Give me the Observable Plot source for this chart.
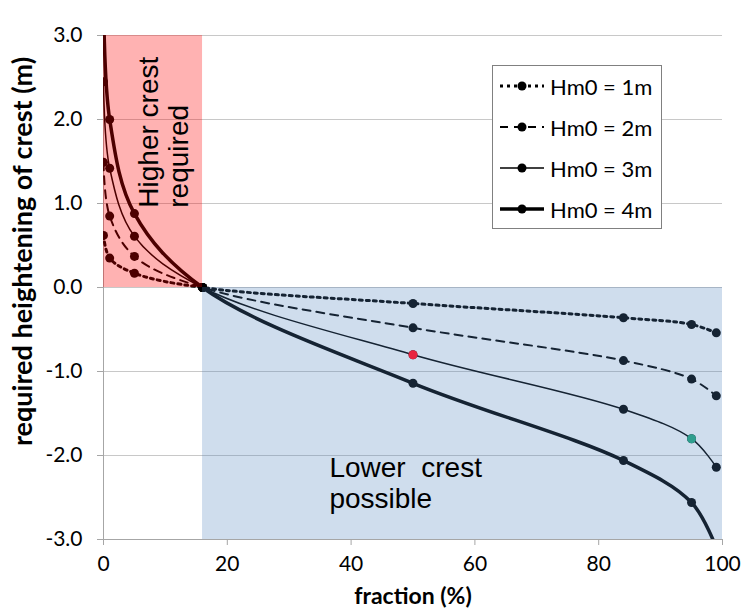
<!DOCTYPE html>
<html>
<head>
<meta charset="utf-8">
<script src="https://cdn.jsdelivr.net/npm/d3@7"></script>
<script src="https://cdn.jsdelivr.net/npm/@observablehq/plot@0.6"></script>
<style>
  body { margin: 0; background: #fff; }
  #chart { position: relative; width: 741px; height: 608px; }
  #legend {
    position: absolute; left: 492px; top: 65px; width: 170px; height: 164px;
    box-sizing: border-box; border: 1px solid #808080; background: #fff;
    font-family: Lato, "Liberation Sans", sans-serif; font-size: 22px; color: #000;
  }
  #legend .row { position: absolute; left: 0; height: 24px; display: flex; align-items: center; }
  #legend svg { margin-left: 6px; margin-right: 5px; }
</style>
</head>
<body>
<div id="chart"><div id="legend"></div></div>
<script>
// Fraction (%) at which each curve was evaluated
const fractions = [0, 1, 5, 16, 50, 84, 95, 99];
const seriesNames = ["Hm0 = 1m", "Hm0 = 2m", "Hm0 = 3m", "Hm0 = 4m"];
// Required heightening of the crest (m) for each wave height
const hm1 = [0.62, 0.35, 0.17, 0, -0.19, -0.36, -0.44, -0.54];
const hm2 = [1.49, 0.85, 0.37, 0, -0.48, -0.87, -1.09, -1.29];
const hm3 = [2.45, 1.42, 0.61, 0, -0.80, -1.45, -1.80, -2.14];
const hm4 = [3.50, 2.00, 0.88, 0, -1.14, -2.06, -2.56, -3.10];
const xTicks = [0, 20, 40, 60, 80, 100];
const yTicks = [-3, -2, -1, 0, 1, 2, 3];
// Shaded zones: crest must go up / crest may go down
const zones = [
  { zone: "higher", x1: 0, x2: 16, y1: 0, y2: 3 },
  { zone: "lower", x1: 16, x2: 100, y1: -3, y2: 0 }
];
// Marked points on the Hm0 = 3m curve
const markedFractions = [50, 95];
const markedKinds = ["red", "teal"];

const seriesValues = [hm1, hm2, hm3, hm4];
const rows = seriesNames.flatMap((name, j) =>
  fractions.map((f, i) => ({ series: name, fraction: f, value: seriesValues[j][i] })));
const marked = markedFractions.map((f, k) => ({
  fraction: f, value: hm3[fractions.indexOf(f)], kind: markedKinds[k]
}));

const lineStyles = {
  "Hm0 = 1m": { strokeWidth: 3, strokeDasharray: "3,4" },
  "Hm0 = 2m": { strokeWidth: 2, strokeDasharray: "8,6" },
  "Hm0 = 3m": { strokeWidth: 1.5 },
  "Hm0 = 4m": { strokeWidth: 3.5 }
};
const zoneColor = { higher: "#ff0000", lower: "#4f81bd" };
const zoneOpacity = { higher: 0.3, lower: 0.27 };
const markedColor = { red: "#e8233f", teal: "#2f9e8e" };

const seriesMarks = seriesNames.flatMap(name => {
  const data = rows.filter(d => d.series === name);
  return [
    Plot.line(data, { x: "fraction", y: "value", stroke: "black", curve: "catmull-rom", clip: true, ...lineStyles[name] }),
    Plot.dot(data, { x: "fraction", y: "value", r: 4.5, fill: "black", clip: true })
  ];
});

const chart = Plot.plot({
  width: 741,
  height: 608,
  marginLeft: 103,
  marginRight: 19,
  marginTop: 35,
  marginBottom: 69,
  x: { domain: [0, 100] },
  y: { domain: [-3, 3] },
  style: { fontFamily: "Lato, 'Liberation Sans', sans-serif", background: "white", color: "black", overflow: "visible" },
  marks: [
    Plot.ruleY(yTicks, { stroke: "#c8c8c8", strokeWidth: 1 }),
    Plot.ruleX([0], { stroke: "#a6a6a6" }),
    Plot.ruleY([-3], { stroke: "#a6a6a6" }),
    ...seriesMarks,
    ...zones.map(z => Plot.rect([z], { x1: "x1", x2: "x2", y1: "y1", y2: "y2", fill: zoneColor[z.zone], fillOpacity: zoneOpacity[z.zone] })),
    ...marked.map(m => Plot.dot([m], { x: "fraction", y: "value", r: 4.5, fill: markedColor[m.kind] })),
    Plot.text(["Higher crest\nrequired"], {
      x: 5.2, y: 0.95, text: d => d, rotate: -90, textAnchor: "start", lineAnchor: "top",
      fontSize: 28, lineHeight: 1.1, fontFamily: "'Liberation Sans', Arial, sans-serif", fill: "black"
    }),
    Plot.text(["Lower\u00a0\u00a0crest\npossible"], {
      x: 36.5, y: -2.0, text: d => d, textAnchor: "start", lineAnchor: "top",
      fontSize: 28, lineHeight: 1.1, fontFamily: "'Liberation Sans', Arial, sans-serif", fill: "black"
    }),
    Plot.axisY({ ticks: yTicks, tickFormat: d => d.toFixed(1), tickSize: 6, tickPadding: 15, fontSize: 21, stroke: "#a6a6a6", fill: "black", label: null }),
    Plot.axisX({ ticks: xTicks, tickFormat: d => String(d), tickSize: 6, tickPadding: 11, fontSize: 21, stroke: "#a6a6a6", fill: "black", label: null }),
    Plot.text(["fraction (%)"], { frameAnchor: "bottom", textAnchor: "middle", dy: 64, text: d => d, fontWeight: "bold", fontSize: 23, fill: "black" }),
    Plot.text(["required heightening of crest (m)"], { frameAnchor: "left", textAnchor: "middle", dx: -80, dy: -36, rotate: -90, text: d => d, fontWeight: "bold", fontSize: 27, fill: "black" })
  ]
});
document.getElementById("chart").prepend(chart);

// Legend inside the plot area: line sample with a dot, then the series name
const legend = d3.select("#legend");
seriesNames.forEach((name, i) => {
  const row = legend.append("div").attr("class", "row").style("top", `${8 + i * 41}px`);
  const svg = row.append("svg").attr("width", 46).attr("height", 24);
  const st = lineStyles[name];
  svg.append("line").attr("x1", 1).attr("x2", 45).attr("y1", 12).attr("y2", 12)
    .attr("stroke", "black").attr("stroke-width", st.strokeWidth)
    .attr("stroke-dasharray", st.strokeDasharray || null);
  svg.append("circle").attr("cx", 23).attr("cy", 12).attr("r", 4.5).attr("fill", "black");
  row.append("span").text(name);
});
</script>
</body>
</html>
